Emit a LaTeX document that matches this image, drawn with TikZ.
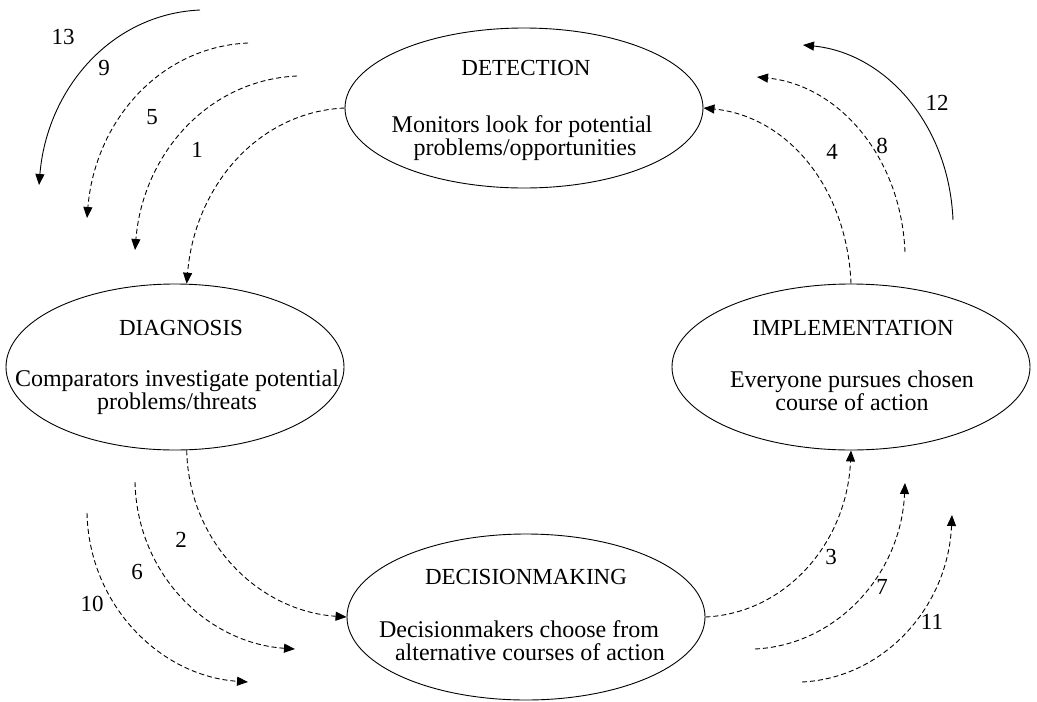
\documentclass[tikz,border=0pt]{standalone}
\usepackage{fontspec}
\setmainfont{Liberation Serif}
\usetikzlibrary{shapes.geometric,arrows.meta}
\begin{document}
\begin{tikzpicture}[x=1pt,y=-1pt,
  stage/.style={draw, ellipse, line width=0.9pt, minimum width=358pt, minimum height=166pt, inner sep=0pt},
  txt/.style={anchor=base, inner sep=0pt, font=\fontsize{24}{27}\selectfont},
  head/.style={txt, font=\fontsize{23}{26}\selectfont},
  num/.style={inner sep=0pt, font=\fontsize{23}{26}\selectfont},
  tip/.style={-{Triangle[length=11pt,width=9pt]}},
  flow/.style={tip, line width=0.9pt, dash pattern=on 5pt off 3pt},
  cycle/.style={tip, line width=0.9pt}
]
\useasboundingbox (0,0) rectangle (1037,702);

% the four stages
\node[stage, minimum height=160pt] (det) at (524,108) {};
\node[stage, minimum width=338pt] (dia) at (175,367) {};
\node[stage] (imp) at (851,367) {};
\node[stage] (dec) at (526,617) {};

% stage texts
\node[head] (detT) at (526,75) {DETECTION};
\node[txt] (detA) at (522,132) {Monitors look for potential};
\node[txt] (detB) at (525,155) {problems/opportunities};

\node[head] (diaT) at (181,335) {DIAGNOSIS};
\node[txt] (diaA) at (177,386) {Comparators investigate potential};
\node[txt] (diaB) at (177,409) {problems/threats};

\node[head] (impT) at (853,335) {IMPLEMENTATION};
\node[txt] (impA) at (852,387) {Everyone pursues chosen};
\node[txt] (impB) at (852,410) {course of action};

\node[head] (decT) at (526,584) {DECISIONMAKING};
\node[txt] (decA) at (519,637) {Decisionmakers choose from};
\node[txt] (decB) at (530,660) {alternative courses of action};

% free ends of the outer passes
\coordinate (s5) at (297,76);   \coordinate (e5) at (135,250);
\coordinate (s9) at (248,43);   \coordinate (e9) at (87,218);
\coordinate (s13) at (200,10);  \coordinate (e13) at (39,185);
\coordinate (s6) at (135,482);  \coordinate (e6) at (295,649);
\coordinate (s10) at (87,513);  \coordinate (e10) at (248,682);
\coordinate (s7) at (755,649);  \coordinate (e7) at (905,483);
\coordinate (s11) at (802,682); \coordinate (e11) at (952,515);
\coordinate (s8) at (905,252);  \coordinate (e8) at (757,77);
\coordinate (s12) at (953,220); \coordinate (e12) at (803,45);

% detection -> diagnosis
\draw[flow] (det.west) .. controls +(-87,4) and +(8,-97) .. (dia.82);
\draw[flow] (s5) .. controls +(-89,4) and +(8,-96) .. (e5);
\draw[flow] (s9) .. controls +(-89,4) and +(8,-96) .. (e9);
\draw[cycle] (s13) .. controls +(-89,4) and +(8,-96) .. (e13);

% diagnosis -> decisionmaking
\draw[flow] (dia.-82) .. controls +(2,92) and +(-88,-6) .. (dec.west);
\draw[flow] (s6) .. controls +(2,92) and +(-88,-6) .. (e6);
\draw[flow] (s10) .. controls +(2,92) and +(-88,-6) .. (e10);

% decisionmaking -> implementation
\draw[flow] (dec.east) .. controls +(81,-4) and +(-4,92) .. (imp.south);
\draw[flow] (s7) .. controls +(82,-4) and +(-4,91) .. (e7);
\draw[flow] (s11) .. controls +(82,-4) and +(-4,92) .. (e11);

% implementation -> detection
\draw[flow] (imp.north) .. controls +(-4,-97) and +(83,8) .. (det.east);
\draw[flow] (s8) .. controls +(-4,-96) and +(81,8) .. (e8);
\draw[cycle] (s12) .. controls +(-4,-96) and +(82,8) .. (e12);

% pass numbers
\node[num] (n1) at (197,150) {1};
\node[num] (n2) at (181,540) {2};
\node[num] (n3) at (831,557) {3};
\node[num] (n4) at (832,152) {4};
\node[num] (n5) at (152,117) {5};
\node[num] (n6) at (137,572) {6};
\node[num] (n7) at (882,587) {7};
\node[num] (n8) at (882,146) {8};
\node[num] (n9) at (104,68) {9};
\node[num] (n10) at (92,604) {10};
\node[num] (n11) at (932,622) {11};
\node[num] (n12) at (937,103) {12};
\node[num] (n13) at (63,37) {13};
\end{tikzpicture}
\end{document}
